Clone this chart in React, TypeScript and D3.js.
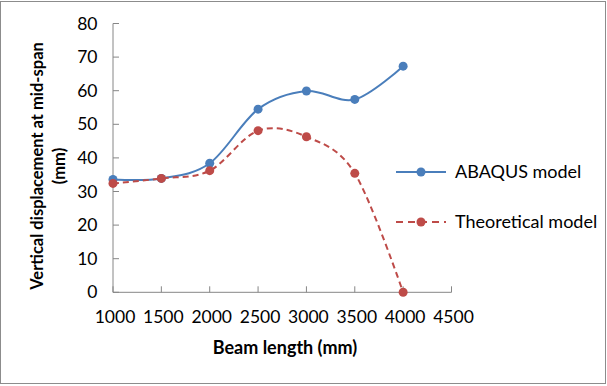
import React from "react";
import * as d3 from "d3";

const beamLengths = [1000, 1500, 2000, 2500, 3000, 3500, 4000];
const abaqusValues = [33.6, 33.9, 38.4, 54.5, 59.9, 57.4, 67.3];
const theoreticalValues = [32.4, 33.9, 36.2, 48.1, 46.3, 35.4, 0];
const xTicks = [1000, 1500, 2000, 2500, 3000, 3500, 4000, 4500];
const yTicks = [0, 10, 20, 30, 40, 50, 60, 70, 80];

const width = 607;
const height = 386;
const font = "Lato, 'Liberation Sans', sans-serif";
const axisColor = "#868686";

const series = [
  { name: "ABAQUS model", values: abaqusValues, color: "#4A7EBB", dash: "none" },
  { name: "Theoretical model", values: theoreticalValues, color: "#BE4B48", dash: "6,4" },
];

const App: React.FC = () => {
  const x = d3.scaleLinear().domain([1000, 4500]).range([113, 451.5]);
  const y = d3.scaleLinear().domain([0, 80]).range([292.3, 23.5]);

  const line = d3
    .line<[number, number]>()
    .x((d) => x(d[0]))
    .y((d) => y(d[1]))
    .curve(d3.curveCardinal.tension(0));

  return (
    <svg
      width={width}
      height={height}
      style={{ position: "absolute", left: 0, top: 0, background: "#fff" }}
    >
      <rect x={0.5} y={1.5} width={605} height={382} fill="none" stroke="#8c8c8c" />

      {/* axes */}
      <line x1={x(1000)} x2={x(1000)} y1={y(80)} y2={y(0)} stroke={axisColor} />
      <line x1={x(1000)} x2={x(4500)} y1={y(0)} y2={y(0)} stroke={axisColor} />
      {yTicks.map((t) => (
        <g key={"y" + t}>
          <line x1={x(1000)} x2={x(1000) + 6} y1={y(t)} y2={y(t)} stroke={axisColor} />
          <text
            x={97.5}
            y={y(t)}
            dy="0.35em"
            textAnchor="end"
            fontFamily={font}
            fontSize={17.5}
            fill="#000"
          >
            {t}
          </text>
        </g>
      ))}
      {xTicks.map((t) => (
        <g key={"x" + t}>
          <line x1={x(t)} x2={x(t)} y1={y(0)} y2={y(0) - 6} stroke={axisColor} />
          <text
            x={x(t) + 2}
            y={317}
            dy="0.35em"
            textAnchor="middle"
            fontFamily={font}
            fontSize={17.5}
            fill="#000"
          >
            {t}
          </text>
        </g>
      ))}

      {/* series */}
      {series.map((s) => {
        const pts = beamLengths.map((b, i) => [b, s.values[i]] as [number, number]);
        return (
          <g key={s.name}>
            <path
              d={line(pts) ?? ""}
              fill="none"
              stroke={s.color}
              strokeWidth={2}
              strokeDasharray={s.dash}
            />
            {pts.map((p, i) => (
              <circle key={i} cx={x(p[0])} cy={y(p[1])} r={4.5} fill={s.color} />
            ))}
          </g>
        );
      })}

      {/* legend */}
      {series.map((s, i) => {
        const ly = 172 + i * 50;
        return (
          <g key={"lg" + s.name}>
            <line
              x1={396}
              x2={446}
              y1={ly}
              y2={ly}
              stroke={s.color}
              strokeWidth={2}
              strokeDasharray={s.dash === "none" ? "none" : "7,5"}
            />
            <circle cx={421} cy={ly} r={4.5} fill={s.color} />
            <text
              x={455}
              y={ly}
              dy="0.35em"
              fontFamily={font}
              fontSize={18}
              fill="#000"
            >
              {s.name}
            </text>
          </g>
        );
      })}

      {/* axis titles */}
      <text
        x={285}
        y={348}
        dy="0.35em"
        textAnchor="middle"
        fontFamily={font}
        fontWeight="bold"
        fontSize={18}
        fill="#000"
      >
        Beam length (mm)
      </text>
      <text
        transform="translate(37,166) rotate(-90)"
        dy="0.35em"
        textAnchor="middle"
        fontFamily={font}
        fontWeight="bold"
        fontSize={16.5}
        fill="#000"
      >
        Vertical displacement at mid-span
      </text>
      <text
        transform="translate(59,166) rotate(-90)"
        dy="0.35em"
        textAnchor="middle"
        fontFamily={font}
        fontWeight="bold"
        fontSize={16.5}
        fill="#000"
      >
        (mm)
      </text>
    </svg>
  );
};

export default App;
